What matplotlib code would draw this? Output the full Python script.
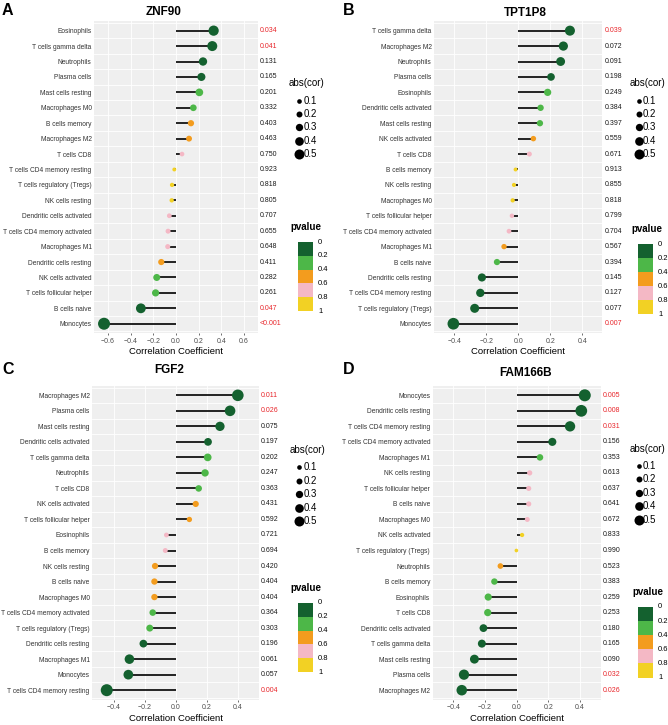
import matplotlib
matplotlib.use("Agg")
import matplotlib.pyplot as plt
import matplotlib.transforms as mtransforms
from matplotlib.patches import Rectangle
import numpy as np

plt.rcParams['font.family'] = ['Liberation Sans', 'DejaVu Sans']

W, H = 668, 725

# ---- data (rows top to bottom) ----
cells_a = ["Eosinophils", "T cells gamma delta", "Neutrophils", "Plasma cells", "Mast cells resting",
           "Macrophages M0", "B cells memory", "Macrophages M2", "T cells CD8", "T cells CD4 memory resting",
           "T cells regulatory (Tregs)", "NK cells resting", "Dendritic cells activated",
           "T cells CD4 memory activated", "Macrophages M1", "Dendritic cells resting", "NK cells activated",
           "T cells follicular helper", "B cells naive", "Monocytes"]
cor_a = [0.332, 0.32, 0.238, 0.224, 0.206, 0.153, 0.132, 0.115, 0.053, -0.015,
         -0.035, -0.038, -0.059, -0.07, -0.073, -0.13, -0.17, -0.18, -0.31, -0.635]
p_a = ["0.034", "0.041", "0.131", "0.165", "0.201", "0.332", "0.403", "0.463", "0.750", "0.923",
       "0.818", "0.805", "0.707", "0.655", "0.648", "0.411", "0.282", "0.261", "0.047", "<0.001"]

cells_b = ["T cells gamma delta", "Macrophages M2", "Neutrophils", "Plasma cells", "Eosinophils",
           "Dendritic cells activated", "Mast cells resting", "NK cells activated", "T cells CD8",
           "B cells memory", "NK cells resting", "Macrophages M0", "T cells follicular helper",
           "T cells CD4 memory activated", "Macrophages M1", "B cells naive", "Dendritic cells resting",
           "T cells CD4 memory resting", "T cells regulatory (Tregs)", "Monocytes"]
cor_b = [0.322, 0.281, 0.264, 0.204, 0.183, 0.139, 0.135, 0.094, 0.069, -0.017,
         -0.027, -0.035, -0.04, -0.058, -0.089, -0.133, -0.227, -0.237, -0.272, -0.405]
p_b = ["0.039", "0.072", "0.091", "0.198", "0.249", "0.384", "0.397", "0.559", "0.671", "0.913",
       "0.855", "0.818", "0.799", "0.704", "0.567", "0.394", "0.145", "0.127", "0.077", "0.007"]

cells_c = ["Macrophages M2", "Plasma cells", "Mast cells resting", "Dendritic cells activated",
           "T cells gamma delta", "Neutrophils", "T cells CD8", "NK cells activated",
           "T cells follicular helper", "Eosinophils", "B cells memory", "NK cells resting",
           "B cells naive", "Macrophages M0", "T cells CD4 memory activated", "T cells regulatory (Tregs)",
           "Dendritic cells resting", "Macrophages M1", "Monocytes", "T cells CD4 memory resting"]
cor_c = [0.40, 0.35, 0.285, 0.208, 0.206, 0.189, 0.148, 0.129, 0.088, -0.06,
         -0.067, -0.133, -0.137, -0.137, -0.148, -0.167, -0.208, -0.298, -0.305, -0.444]
p_c = ["0.011", "0.026", "0.075", "0.197", "0.202", "0.247", "0.363", "0.431", "0.592", "0.721",
       "0.694", "0.420", "0.404", "0.404", "0.364", "0.303", "0.196", "0.061", "0.057", "0.004"]

cells_d = ["Monocytes", "Dendritic cells resting", "T cells CD4 memory resting", "T cells CD4 memory activated",
           "Macrophages M1", "NK cells resting", "T cells follicular helper", "B cells naive",
           "Macrophages M0", "NK cells activated", "T cells regulatory (Tregs)", "Neutrophils",
           "B cells memory", "Eosinophils", "T cells CD8", "Dendritic cells activated",
           "T cells gamma delta", "Mast cells resting", "Plasma cells", "Macrophages M2"]
cor_d = [0.43, 0.408, 0.337, 0.225, 0.147, 0.082, 0.076, 0.076, 0.067, 0.034,
         -0.002, -0.103, -0.141, -0.18, -0.183, -0.21, -0.22, -0.267, -0.333, -0.347]
p_d = ["0.005", "0.008", "0.031", "0.156", "0.353", "0.613", "0.637", "0.641", "0.672", "0.833",
       "0.990", "0.523", "0.383", "0.259", "0.253", "0.180", "0.165", "0.090", "0.032", "0.026"]

size_breaks = [0.1, 0.2, 0.3, 0.4, 0.5]
p_breaks = [0, 0.2, 0.4, 0.6, 0.8, 1]
p_colors = ['#14612F', '#4DB748', '#F39C1E', '#F4B8C5', '#F2D124']


def p_num(s):
    return 0.0005 if s.startswith('<') else float(s)


def p_color(s):
    return p_colors[min(int(p_num(s) / 0.2), 4)]


def dot_area(v):
    d = min(3.6 + 20 * abs(v), 12)   # diameter in px
    return (d * 0.72) ** 2


def legend_area(v):
    d = 3.3 + 13.4 * v
    return (d * 0.72) ** 2


def fmt_tick(t):
    return f"{t:.1f}".replace('-', '\u2212')


panels = [
    dict(title="ZNF90", letter="A", cells=cells_a, cor=cor_a, p=p_a,
         box=(94.4, 21.4, 257.6, 333), xlim=0.72, ticks=[-0.6, -0.4, -0.2, 0, 0.2, 0.4, 0.6],
         title_xy=(164, 12), letter_xy=(2, 10.5),
         size_title=(289, 83), dot_x=298.7, dot_y0=100.5,
         p_title=(290, 227), bar=(298, 242, 313, 311)),
    dict(title="TPT1P8", letter="B", cells=cells_b, cor=cor_b, p=p_b,
         box=(434.3, 21.4, 602.3, 333), xlim=0.524, ticks=[-0.4, -0.2, 0, 0.2, 0.4],
         title_xy=(525, 13), letter_xy=(343, 10.5),
         size_title=(630, 83), dot_x=638.5, dot_y0=100.5,
         p_title=(631.5, 229), bar=(638, 244, 653, 314)),
    dict(title="FGF2", letter="C", cells=cells_c, cor=cor_c, p=p_c,
         box=(92.3, 386, 259.1, 699.5), xlim=0.537, ticks=[-0.4, -0.2, 0, 0.2, 0.4],
         title_xy=(169, 370), letter_xy=(2, 369.5),
         size_title=(290, 450), dot_x=298.7, dot_y0=467.3,
         p_title=(290, 588), bar=(298, 603, 313, 672)),
    dict(title="FAM166B", letter="D", cells=cells_d, cor=cor_d, p=p_d,
         box=(432.8, 386, 600.6, 699.5), xlim=0.53, ticks=[-0.4, -0.2, 0, 0.2, 0.4],
         title_xy=(526, 373), letter_xy=(343, 369.5),
         size_title=(630, 449), dot_x=638.5, dot_y0=466,
         p_title=(632, 592), bar=(638, 607, 653, 677.5)),
]

fig = plt.figure(figsize=(W / 100, H / 100), dpi=100)

# overlay axes in pixel coordinates for titles and legends
ov = fig.add_axes([0, 0, 1, 1], zorder=5)
ov.set_xlim(0, W)
ov.set_ylim(H, 0)
ov.axis('off')

for pn in panels:
    x0, y0, x1, y1 = pn['box']
    ax = fig.add_axes([x0 / W, 1 - y1 / H, (x1 - x0) / W, (y1 - y0) / H])
    n = len(pn['cells'])
    y = np.arange(n)
    ax.set_facecolor('#EFEFEF')
    for t in pn['ticks']:
        ax.axvline(t, color='white', lw=0.6, zorder=0)
    for yy in np.arange(-0.5, n):
        ax.axhline(yy, color='white', lw=0.6, zorder=0)
    ax.hlines(y, 0, pn['cor'], color='black', lw=1.2, zorder=2)
    ax.scatter(pn['cor'], y, s=[dot_area(v) for v in pn['cor']],
               c=[p_color(s) for s in pn['p']], linewidths=0, zorder=3)
    ax.set_xlim(-pn['xlim'], pn['xlim'])
    ax.set_ylim(n - 1 + 0.6, -0.6)
    ax.set_yticks(y, pn['cells'], fontsize=4.8, color='#333333')
    ax.set_xticks(pn['ticks'], [fmt_tick(t) for t in pn['ticks']], fontsize=5, color='#4D4D4D')
    ax.tick_params(axis='y', length=0, pad=2)
    ax.tick_params(axis='x', length=1.4, width=0.5, color='#333333', pad=2)
    ax.set_xlabel("Correlation Coefficient", fontsize=6.8, labelpad=2)
    for s in ax.spines.values():
        s.set_visible(False)

    trans = mtransforms.blended_transform_factory(ax.transAxes, ax.transData)
    for yi, ps in zip(y, pn['p']):
        col = '#E8262B' if p_num(ps) < 0.05 else '#1A1A1A'
        ax.text(1 + 2 / (x1 - x0), yi, ps, transform=trans, ha='left', va='center',
                fontsize=5, color=col, clip_on=False)

    # titles
    ov.text(*pn['title_xy'], pn['title'], ha='center', va='center', fontsize=8.5, fontweight='bold')
    ov.text(*pn['letter_xy'], pn['letter'], ha='left', va='center', fontsize=11.5, fontweight='bold')

    # size legend
    ov.text(*pn['size_title'], "abs(cor)", ha='left', va='center', fontsize=7)
    for k, b in enumerate(size_breaks):
        yy = pn['dot_y0'] + 13.4 * k
        ov.scatter([pn['dot_x']], [yy], s=legend_area(b), color='black', linewidths=0)
        ov.text(pn['dot_x'] + 4.5, yy, f"{b:.1f}", ha='left', va='center', fontsize=7)

    # pvalue legend
    ov.text(*pn['p_title'], "pvalue", ha='left', va='center', fontsize=7, fontweight='bold')
    bx0, by0, bx1, by1 = pn['bar']
    step = (by1 - by0) / len(p_colors)
    for k, col in enumerate(p_colors):
        ov.add_patch(Rectangle((bx0, by0 + k * step), bx1 - bx0, step, facecolor=col, edgecolor='none'))
    for k, b in enumerate(p_breaks):
        lab = f"{b:g}"
        ov.text(bx1 + 5, by0 + k * step, lab, ha='left', va='center', fontsize=5.5)

fig.savefig("out.png", dpi=100)
